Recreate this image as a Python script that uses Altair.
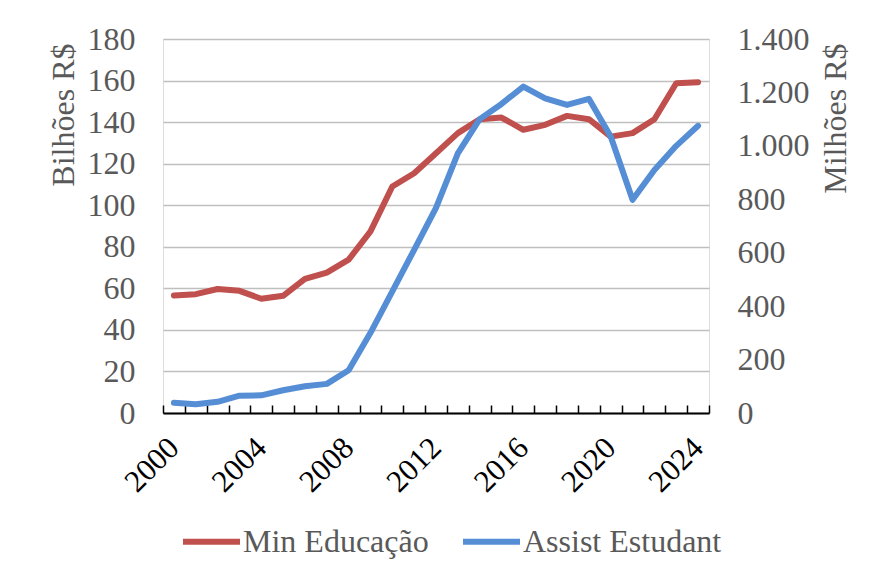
import altair as alt
import pandas as pd

years = list(range(2000, 2025))
min_educacao = [56.6, 57.2, 59.7, 58.8, 55.0, 56.4, 64.5, 67.6, 73.8, 87.4,
                109.0, 115.4, 125.0, 134.7, 141.4, 142.2, 136.3, 138.7, 143.0,
                141.4, 133.0, 134.7, 141.4, 158.7, 159.2]
assist_estudant = [38, 33, 42, 65, 66, 85, 100, 109, 160, 300, 455, 611, 768,
                   972, 1100, 1157, 1222, 1178, 1153, 1176, 1035, 798, 910,
                   1000, 1075]
series_names = ["Min Educação", "Assist Estudant"]
left_ticks = [0, 20, 40, 60, 80, 100, 120, 140, 160, 180]
right_ticks = [0, 200, 400, 600, 800, 1000, 1200, 1400]
year_labels = [2000, 2004, 2008, 2012, 2016, 2020, 2024]
tick_bounds = [y - 0.5 for y in years] + [years[-1] + 0.5]

RED = "#C0504D"
BLUE = "#558ED5"
GREY = "#595959"
FONT = "Liberation Serif"

rows = []
for y, v in zip(years, min_educacao):
    rows.append({"year": y, "value": v, "series": series_names[0]})
for y, v in zip(years, assist_estudant):
    rows.append({"year": y, "value": v, "series": series_names[1]})
df = pd.DataFrame(rows)

color = alt.Color(
    "series:N",
    scale=alt.Scale(domain=series_names, range=[RED, BLUE]),
    sort=series_names,
    legend=alt.Legend(
        title=None, orient="none", legendX=17, legendY=471,
        direction="horizontal", symbolType="stroke", symbolStrokeWidth=6,
        symbolSize=3249, labelFont=FONT, labelFontSize=32, labelColor=GREY,
        columnPadding=22, labelOffset=0, labelLimit=400,
    ),
)

base = alt.Chart(df)

red = base.transform_filter(alt.datum.series == series_names[0]).mark_line(
    strokeWidth=6, strokeCap="round", strokeJoin="round"
).encode(
    x=alt.X("year:Q", scale=alt.Scale(domain=[1999.5, 2024.5], nice=False, zero=False),
            axis=alt.Axis(
                values=year_labels, labelAngle=315, labelAlign="right",
                labelBaseline="middle", ticks=False, tickSize=0, labelPadding=30,
                domain=True, domainColor="black", domainWidth=2, grid=False,
                labelFont=FONT, labelFontSize=31, labelColor="black", title=None,
                orient="bottom", labelFlush=False, labelOverlap=False,
                format="d")),
    y=alt.Y("value:Q", scale=alt.Scale(domain=[0, 180], nice=False),
            axis=alt.Axis(
                values=left_ticks, orient="left", grid=True, gridColor="#BFBFBF",
                gridWidth=1.6, domain=False, ticks=False, labelPadding=28,
                labelFont=FONT, labelFontSize=32, labelColor=GREY,
                title="Bilhões R$", titleFont=FONT, titleFontSize=32,
                titleFontWeight="normal", titleColor=GREY, titleAngle=270,
                titleAlign="right", titleBaseline="alphabetic",
                titleX=-90, titleY=4)),
    color=color,
)

blue = base.transform_filter(alt.datum.series == series_names[1]).mark_line(
    strokeWidth=6, strokeCap="round", strokeJoin="round"
).encode(
    x=alt.X("year:Q", scale=alt.Scale(domain=[1999.5, 2024.5], nice=False, zero=False),
            axis=alt.Axis(
                values=tick_bounds, labels=False, ticks=True, tickSize=8,
                tickColor="black", tickWidth=1.5, domain=False, grid=False,
                offset=-8, title=None, orient="bottom")),
    y=alt.Y("value:Q", scale=alt.Scale(domain=[0, 1400], nice=False),
            axis=alt.Axis(
                values=right_ticks, orient="right", grid=False, domain=False,
                ticks=False, labelPadding=28, labelFont=FONT, labelFontSize=32,
                labelColor=GREY, labelAlign="left",
                labelExpr="replace(format(datum.value, ','), ',', '.')",
                title="Milhões R$", titleFont=FONT, titleFontSize=32,
                titleFontWeight="normal", titleColor=GREY, titleAngle=270,
                titleAlign="right", titleBaseline="alphabetic",
                titleX=136, titleY=4)),
    color=color,
)

chart = alt.layer(red, blue).resolve_scale(
    x="independent", y="independent"
).resolve_axis(
    x="independent", y="independent"
).properties(
    width=546, height=374,
    autosize=alt.AutoSizeParams(type="none"),
    padding={"left": 155, "top": 31, "right": 150, "bottom": 155},
).configure_view(stroke=None).configure(background="white")

chart.save("out.html", embed_options={"renderer": "svg", "actions": False})
